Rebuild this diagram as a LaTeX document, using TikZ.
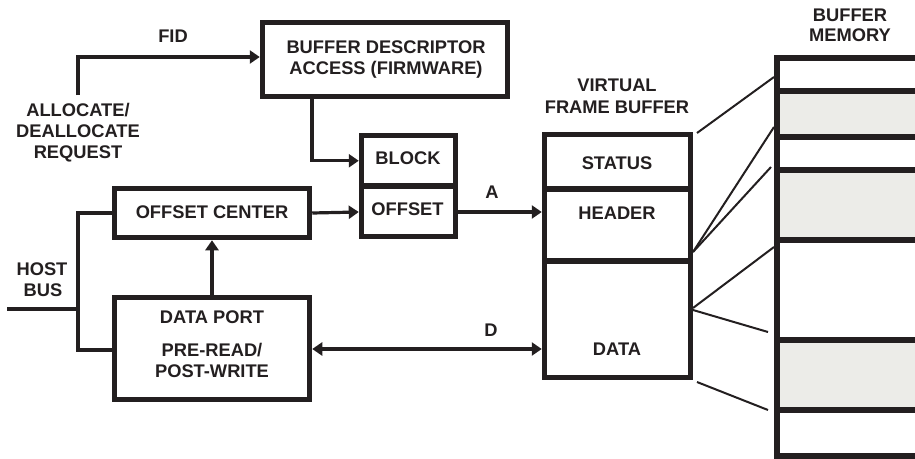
\documentclass[tikz,border=0pt]{standalone}
\usepackage{fontspec}
\setmainfont{Liberation Sans}
\usetikzlibrary{arrows.meta}
\definecolor{ink}{HTML}{231F20}
\definecolor{shade}{RGB}{236,236,232}
\newcommand\lblfont{\fontsize{18.3}{21}\selectfont\bfseries}
\begin{document}
\begin{tikzpicture}[x=1pt,y=-1pt,
  box/.style={draw=ink, line width=5.5pt, inner sep=0pt},
  txt/.style={font=\lblfont, text=ink, inner sep=0pt, text height=13.1pt, text depth=0pt},
  arr/.style={draw=ink, line width=3.2pt, -{Triangle[length=10pt,width=13pt]}},
  darr/.style={draw=ink, line width=3.2pt, {Triangle[length=10pt,width=13pt]}-{Triangle[length=10pt,width=13pt]}},
  wire/.style={draw=ink, line width=3.2pt},
  fan/.style={draw=ink, line width=2pt},
  mem/.style={draw=ink, line width=5.5pt, minimum width=183pt, inner sep=0pt}]
\useasboundingbox (0,0) rectangle (915,458);

% buffer descriptor access
\node[box, minimum width=245pt, minimum height=74pt] (bd) at (385,59.5) {};
\node[txt] (bdt1) at (386,47) {BUFFER DESCRIPTOR};
\node[txt] (bdt2) at (386,68) {ACCESS (FIRMWARE)};

% allocate request
\node[txt] (alloc1) at (78,110) {ALLOCATE/};
\node[txt] (alloc2) at (78,131) {DEALLOCATE};
\node[txt] (alloc3) at (78,152) {REQUEST};
\coordinate (allocTop) at (78,95);
\node[txt] (fid) at (173,36) {FID};

% block / offset
\node[box, minimum width=94pt, minimum height=50.5pt] (block) at (408.5,160.75) {};
\node[txt] (blockt) at (408,158) {BLOCK};
\node[box, minimum width=94pt, minimum height=50.5pt] (offs) at (408.5,211.25) {};
\node[txt] (offst) at (407.5,209) {OFFSET};

% offset center and data port
\node[box, minimum width=195pt, minimum height=49pt] (oc) at (212,213) {};
\node[txt] (oct) at (212,212) {OFFSET CENTER};
\node[box, minimum width=195pt, minimum height=102pt] (dp) at (212,348.5) {};
\node[txt] (dpt1) at (212,317) {DATA PORT};
\node[txt] (dpt2) at (212,350) {PRE-READ/};
\node[txt] (dpt3) at (212,371) {POST-WRITE};

% host bus
\node[txt] (host) at (42,269) {HOST};
\node[txt] (bus) at (43,290) {BUS};
\coordinate (busj) at (78,309);
\coordinate (busin) at (7,309);

% virtual frame buffer
\node[txt] (vfb1) at (617,85) {VIRTUAL};
\node[txt] (vfb2) at (617,107) {FRAME BUFFER};
\node[box, minimum width=146pt, minimum height=54.5pt] (status) at (617.5,161.75) {};
\node[txt] (statust) at (617,163) {STATUS};
\node[box, minimum width=146pt, minimum height=72pt] (header) at (617.5,225) {};
\node[txt] (headert) at (617,213) {HEADER};
\node[box, minimum width=146pt, minimum height=116.5pt] (vdata) at (617.5,319.25) {};
\node[txt] (vdatat) at (617,349) {DATA};

% buffer memory
\node[txt] (bm1) at (850,15) {BUFFER};
\node[txt] (bm2) at (850,35) {MEMORY};
\node[mem, minimum height=33.25pt] (m1) at (868.5,74.375) {};
\node[mem, fill=shade, minimum height=46pt] (m2) at (868.5,114) {};
\node[mem, minimum height=33pt] (m3) at (868.5,153.5) {};
\node[mem, fill=shade, minimum height=70pt] (m4) at (868.5,205) {};
\node[mem, minimum height=100pt] (m5) at (868.5,290) {};
\node[mem, fill=shade, minimum height=70pt] (m6) at (868.5,375) {};
\node[mem, minimum height=46pt] (m7) at (868.5,433) {};

% connectors
\draw[arr] (allocTop) |- (bd.west |- 0,57);
\draw[arr] ([xshift=-73pt]bd.south) |- (block.west);
\draw[arr] (oc.east) -- (offs.west |- 0,212);
\draw[arr] (dp.north) -- (oc.south);
\draw[arr] (offs.east |- 0,212) -- (header.west |- 0,212);
\node[txt] (alab) at (492,192) {A};
\draw[darr] (dp.east |- 0,349) -- (vdata.west |- 0,349);
\node[txt] (dlab) at (491,330) {D};
\draw[wire] (oc.west) -| (busj) |- (dp.west |- 0,350);
\draw[wire] (busin) -- (busj);

% fan lines
\coordinate (f1a) at (697,133); \coordinate (f1b) at (774,77);
\coordinate (f2a) at (693,252); \coordinate (f2b) at (774,127);
\coordinate (f3b) at (771,167);
\coordinate (f4a) at (693,308); \coordinate (f4b) at (774,247);
\coordinate (f5a) at (693,310); \coordinate (f5b) at (768,332);
\coordinate (f6a) at (697,382); \coordinate (f6b) at (768,410);
\draw[fan] (f1a) -- (f1b);
\draw[fan] (f2a) -- (f2b);
\draw[fan] (f2a) -- (f3b);
\draw[fan] (f4a) -- (f4b);
\draw[fan] (f5a) -- (f5b);
\draw[fan] (f6a) -- (f6b);
\end{tikzpicture}
\end{document}
